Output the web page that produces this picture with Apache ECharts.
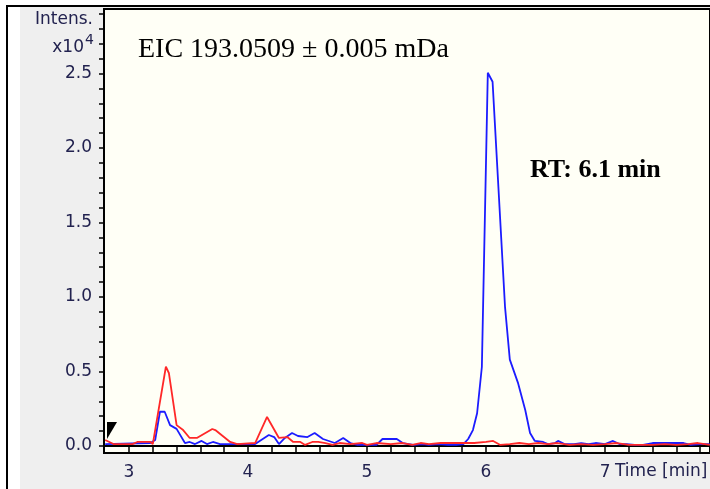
<!DOCTYPE html>
<html>
<head>
<meta charset="utf-8">
<script src="https://cdn.jsdelivr.net/npm/echarts@6/dist/echarts.min.js"></script>
<style>
  html, body { margin: 0; padding: 0; background: #fff; }
  #chart { width: 710px; height: 489px; }
</style>
</head>
<body>
<div id="chart"></div>
<script>
// EIC trace, blue (sample) - time in min, intensity in x10^4
const blueTime = [2.80, 3.18, 3.22, 3.26, 3.30, 3.345, 3.40, 3.47, 3.51, 3.555, 3.61, 3.655, 3.705, 3.765,
  4.06, 4.175, 4.22, 4.26, 4.31, 4.37, 4.42, 4.50, 4.56, 4.63, 4.73, 4.80, 4.86, 4.92,
  5.08, 5.13, 5.25, 5.30, 5.39, 5.47, 5.52, 5.60, 5.68, 5.75, 5.81, 5.85, 5.89, 5.925, 5.965,
  6.015, 6.055, 6.16, 6.20, 6.27, 6.33, 6.37, 6.41, 6.48, 6.52, 6.58, 6.605, 6.66, 6.74, 6.80, 6.86, 6.92,
  7.00, 7.067, 7.12, 7.18, 7.25, 7.32, 7.40, 7.50, 7.60, 7.66, 7.72, 7.80, 7.88];
const blueInt = [0.013, 0.02, 0.04, 0.23, 0.23, 0.14, 0.115, 0.02, 0.027, 0.013, 0.034, 0.013, 0.027, 0.013,
  0.013, 0.074, 0.06, 0.013, 0.054, 0.087, 0.067, 0.06, 0.087, 0.047, 0.02, 0.054, 0.02, 0.007,
  0.007, 0.047, 0.047, 0.02, 0.007, 0.013, 0.007, 0.013, 0.007, 0.007, 0.013, 0.047, 0.107, 0.22, 0.53,
  2.505, 2.445, 0.93, 0.58, 0.42, 0.24, 0.087, 0.034, 0.027, 0.013, 0.02, 0.034, 0.013, 0.013, 0.02, 0.013, 0.02,
  0.013, 0.034, 0.013, 0.013, 0.007, 0.007, 0.02, 0.02, 0.02, 0.02, 0.007, 0.013, 0.013];

// EIC trace, red (reference)
const redTime = [2.80, 2.87, 3.03, 3.07, 3.18, 3.20, 3.31, 3.335, 3.40, 3.455, 3.51, 3.57, 3.70, 3.725, 3.85, 3.91,
  4.06, 4.16, 4.26, 4.33, 4.38, 4.44, 4.48, 4.54, 4.59, 4.65, 4.71, 4.77, 4.86, 4.96,
  5.00, 5.08, 5.20, 5.30, 5.38, 5.45, 5.52, 5.62, 5.75, 5.90, 6.00, 6.06, 6.12, 6.20, 6.28, 6.36, 6.44, 6.52,
  6.60, 6.70, 6.80, 6.90, 7.00, 7.10, 7.20, 7.30, 7.40, 7.50, 7.60, 7.70, 7.78, 7.88];
const redInt = [0.04, 0.013, 0.013, 0.027, 0.027, 0.013, 0.532, 0.49, 0.14, 0.107, 0.054, 0.054, 0.114, 0.107, 0.027, 0.013,
  0.02, 0.195, 0.054, 0.06, 0.027, 0.027, 0.007, 0.027, 0.027, 0.02, 0.007, 0.02, 0.013, 0.02,
  0.007, 0.02, 0.013, 0.02, 0.007, 0.02, 0.013, 0.02, 0.02, 0.02, 0.027, 0.034, 0.007, 0.013, 0.02, 0.013, 0.02, 0.013,
  0.02, 0.007, 0.013, 0.007, 0.013, 0.02, 0.007, 0.007, 0.007, 0.013, 0.007, 0.013, 0.02, 0.007];

// axis labels
const xLabels = [3, 4, 5, 6, 7];
const yLabels = [0, 0.5, 1.0, 1.5, 2.0, 2.5];

// minor tick positions
const xTicks = [];
for (let i = 1; i <= 25; i++) xTicks.push(+(2.8 + i * 0.2).toFixed(1));
const yTicks = [];
for (let i = 0; i <= 29; i++) yTicks.push(+(i * 0.1).toFixed(1));

const zip = (t, v) => t.map((x, i) => [x, v[i]]);

const labelColor = '#22224f';
const labelFont = { color: labelColor, fontFamily: 'DejaVu Sans', fontSize: 17 };
const chart = echarts.init(document.getElementById('chart'));

chart.setOption({
  animation: false,
  backgroundColor: '#efefef',
  grid: {
    left: 104, top: 9, right: -3, bottom: 36,
    show: true, backgroundColor: '#fffff6', borderColor: '#000', borderWidth: 2
  },
  xAxis: {
    type: 'value', min: 2.79, max: 7.882,
    axisLine: { lineStyle: { color: '#000', width: 2 } },
    axisTick: { customValues: xTicks, length: 6, lineStyle: { color: '#000', width: 1.5 } },
    axisLabel: Object.assign({ customValues: xLabels, margin: 11 }, labelFont),
    splitLine: { show: false }
  },
  yAxis: {
    type: 'value', min: -0.047, max: 2.933,
    axisLine: { show: true, lineStyle: { color: '#000', width: 2 } },
    axisTick: { show: true, customValues: yTicks, length: 5, lineStyle: { color: '#000', width: 1.5 } },
    axisLabel: Object.assign({ customValues: yLabels, margin: 12, formatter: v => v.toFixed(1) }, labelFont),
    splitLine: { show: false }
  },
  series: [
    { type: 'line', data: zip(blueTime, blueInt), showSymbol: false,
      lineStyle: { color: '#1c1cff', width: 1.8 } },
    { type: 'line', data: zip(redTime, redInt), showSymbol: false,
      lineStyle: { color: '#ff2828', width: 1.8 } }
  ],
  graphic: [
    { type: 'rect', shape: { x: 0, y: 0, width: 20, height: 489 }, style: { fill: '#fff' } },
    { type: 'rect', shape: { x: 0, y: 0, width: 710, height: 5 }, style: { fill: '#fff' } },
    { type: 'rect', shape: { x: 6, y: 5, width: 2, height: 484 }, style: { fill: '#000' } },
    { type: 'rect', shape: { x: 6, y: 5, width: 704, height: 2 }, style: { fill: '#000' } },
    { type: 'text', style: { text: 'Intens.', x: 93, y: 20, align: 'right', verticalAlign: 'middle',
      fill: labelColor, font: '17px "DejaVu Sans"' } },
    { type: 'text', style: { text: 'x10', x: 84, y: 48, align: 'right', verticalAlign: 'middle',
      fill: labelColor, font: '17px "DejaVu Sans"' } },
    { type: 'text', style: { text: '4', x: 85, y: 40, align: 'left', verticalAlign: 'middle',
      fill: labelColor, font: '14px "DejaVu Sans"' } },
    { type: 'text', style: { text: 'Time [min]', x: 615, y: 472, align: 'left', verticalAlign: 'middle',
      fill: labelColor, font: '17px "DejaVu Sans"' } },
    { type: 'text', style: { text: 'EIC 193.0509 ± 0.005 mDa', x: 138, y: 50, align: 'left', verticalAlign: 'middle',
      fill: '#000', font: '28px "Liberation Serif"' } },
    { type: 'text', style: { text: 'RT: 6.1 min', x: 530, y: 170, align: 'left', verticalAlign: 'middle',
      fill: '#000', font: 'bold 26px "Liberation Serif"' } },
    { type: 'polygon', z: 10, shape: { points: [[107, 422], [117, 422], [107, 439]] }, style: { fill: '#000' } }
  ]
});
</script>
</body>
</html>
